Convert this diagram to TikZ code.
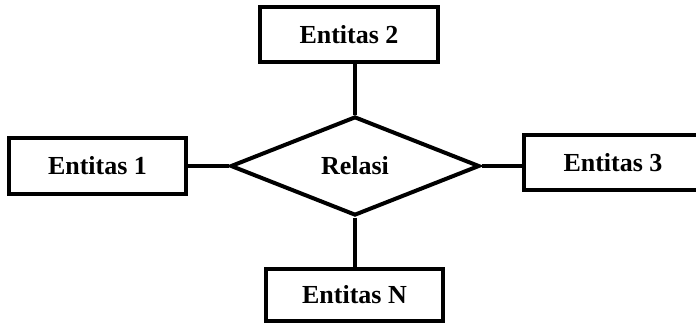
\documentclass[tikz,border=0pt]{standalone}
\usepackage{fontspec}
\setmainfont{Liberation Serif}
\usetikzlibrary{shapes.geometric}

\begin{document}
\begin{tikzpicture}[x=1pt,y=-1pt,
    entitas/.style={draw, line width=4pt, rectangle, inner sep=0pt,
      font=\fontsize{26}{30}\selectfont\bfseries},
    relasi/.style={draw, line width=4pt, diamond, inner sep=0pt,
      minimum width=249pt, minimum height=99pt,
      font=\fontsize{26}{30}\selectfont\bfseries}]
          \clip (0,0) rectangle (696,325);
          \node[relasi] (rel) at (355,166) {Relasi};
          \node[entitas, minimum width=177pt, minimum height=56pt] (e1) at (97.5,166) {Entitas 1};
          \node[entitas, minimum width=178pt, minimum height=55pt] (e2) at (349,34.5) {Entitas 2};
          \node[entitas, minimum width=178pt, minimum height=55pt] (e3) at (613,162.5) {Entitas 3};
          \node[entitas, minimum width=177pt, minimum height=52pt] (eN) at (354.5,295) {Entitas N};
          \draw[line width=4pt] (e1.east) -- (rel.west);
          \draw[line width=4pt] (rel.east) -- (rel.east -| e3.west);
          \draw[line width=4pt] (rel.north) -- (rel.north |- e2.south);
          \draw[line width=4pt] (rel.south) -- (rel.south |- eN.north);
        \end{tikzpicture}
\end{document}
